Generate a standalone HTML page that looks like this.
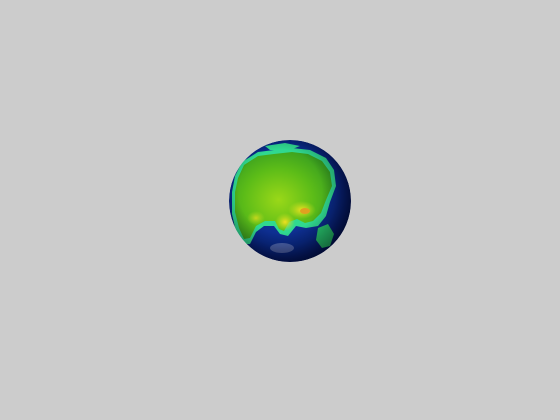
<!DOCTYPE html>
<html><head><meta charset="utf-8">
<style>html,body{margin:0;padding:0;background:#cccccc;}svg{display:block}</style>
</head><body>
<svg width="560" height="420" viewBox="0 0 560 420">
<defs>
<radialGradient id="ocean" cx="0.45" cy="0.45" r="0.6">
<stop offset="0" stop-color="#1a3fa8"/><stop offset="0.7" stop-color="#0a2a8a"/><stop offset="1" stop-color="#02105a"/>
</radialGradient>
<radialGradient id="shade" cx="0.42" cy="0.42" r="0.62">
<stop offset="0.55" stop-color="#000" stop-opacity="0"/><stop offset="1" stop-color="#000" stop-opacity="0.5"/>
</radialGradient>
<radialGradient id="land" cx="0.45" cy="0.55" r="0.6">
<stop offset="0" stop-color="#9ad818"/><stop offset="0.6" stop-color="#5cbc18"/><stop offset="1" stop-color="#3aa020"/>
</radialGradient>
<radialGradient id="hi" cx="0.5" cy="0.5" r="0.5">
<stop offset="0" stop-color="#f0e020"/><stop offset="1" stop-color="#c8e020" stop-opacity="0"/>
</radialGradient>
<clipPath id="clip"><circle cx="290" cy="201" r="61"/></clipPath>
</defs>
<g clip-path="url(#clip)">
<circle cx="290" cy="201" r="61" fill="url(#ocean)"/>
<path fill="#30d890" d="M242,162 L258,152 L274,150 L292,148 L310,150 L326,158 L334,170 L336,186 L330,202 L326,216 L318,226 L306,228 L296,226 L288,236 L280,234 L274,226 L264,226 L256,232 L250,244 L242,244 L236,232 L232,214 L232,192 L235,176 Z"/>
<path fill="url(#land)" d="M244,165 L258,156 L274,154 L292,152 L308,154 L322,161 L330,172 L332,186 L326,200 L321,213 L313,221 L305,223 L297,219 L289,222 L284,231 L279,229 L275,221 L265,221 L256,226 L250,238 L244,239 L239,228 L235,212 L235,192 L238,178 Z"/>
<ellipse cx="302" cy="210" rx="14" ry="9" fill="url(#hi)"/>
<ellipse cx="285" cy="222" rx="10" ry="9" fill="url(#hi)"/>
<ellipse cx="256" cy="218" rx="9" ry="7" fill="url(#hi)" opacity="0.7"/>
<ellipse cx="305" cy="211" rx="5" ry="3" fill="#e0a020"/>
<ellipse cx="282" cy="248" rx="12" ry="5" fill="#e8e8ff" opacity="0.3"/>
<path fill="#28c870" d="M318,228 L328,224 L334,234 L330,246 L322,248 L316,240 Z"/>
<path fill="#30d890" d="M265,146 L285,143 L300,146 L290,150 L270,150 Z"/>
<circle cx="290" cy="201" r="61" fill="url(#shade)"/>
</g>
</svg>
</body></html>
